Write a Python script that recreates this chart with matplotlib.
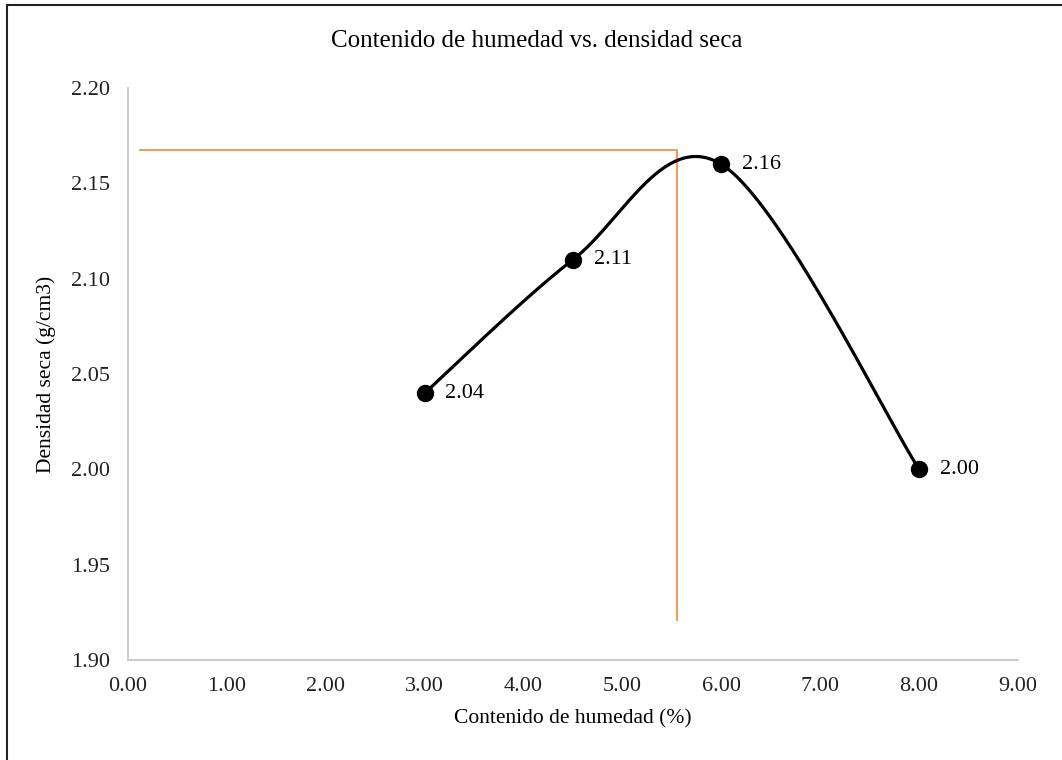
import numpy as np
import matplotlib
matplotlib.use("Agg")
import matplotlib.pyplot as plt
from matplotlib.patches import Rectangle

# ── Data ─────────────────────────────────────────────────────────────────────
humedad = [3.0, 4.5, 6.0, 8.0]          # contenido de humedad (%)
densidad = [2.04, 2.11, 2.16, 2.00]     # densidad seca (g/cm3)
etiquetas = ["2.04", "2.11", "2.16", "2.00"]

# guide lines for optimum moisture / max dry density
guia_x = [0.12, 5.55, 5.55]
guia_y = [2.1675, 2.1675, 1.921]

x_ticks = [0, 1, 2, 3, 4, 5, 6, 7, 8, 9]
y_ticks = [1.90, 1.95, 2.00, 2.05, 2.10, 2.15, 2.20]


def excel_smooth(xs, ys, n=60):
    """Bezier smoothing like Excel's 'smoothed line' (tangent/6 control points)."""
    pts = np.column_stack([xs, ys])
    out = []
    for i in range(len(pts) - 1):
        p0 = pts[i - 1] if i > 0 else pts[i]
        p1, p2 = pts[i], pts[i + 1]
        p3 = pts[i + 2] if i + 2 < len(pts) else pts[i + 1]
        c1 = p1 + (p2 - p0) / 6
        c2 = p2 - (p3 - p1) / 6
        t = np.linspace(0, 1, n)[:, None]
        seg = ((1 - t) ** 3) * p1 + 3 * ((1 - t) ** 2) * t * c1 \
            + 3 * (1 - t) * t ** 2 * c2 + t ** 3 * p2
        out.append(seg if i == 0 else seg[1:])
    out = np.vstack(out)
    return out[:, 0], out[:, 1]


plt.rcParams["font.family"] = ["Liberation Serif", "DejaVu Serif"]

fig = plt.figure(figsize=(10.62, 7.60), dpi=100)
ax = fig.add_axes([128 / 1062, 1 - 660 / 760, 890 / 1062, 572 / 760])

sx, sy = excel_smooth(humedad, densidad)
ax.plot(sx, sy, color="black", lw=2.3, solid_capstyle="round", zorder=3)
ax.plot(humedad, densidad, "o", color="black", ms=11.5, zorder=4)
ax.plot(guia_x, guia_y, color="#F4914B", lw=1.3, zorder=2)

for x, y, s in zip(humedad, densidad, etiquetas):
    ax.annotate(s, (x, y), xytext=(15, 0), textcoords="offset points",
                ha="left", va="center", fontsize=16)

ax.set_xlim(0, 9)
ax.set_ylim(1.90, 2.20)
ax.set_xticks(x_ticks)
ax.set_xticklabels([f"{v:.2f}" for v in x_ticks])
ax.set_yticks(y_ticks)
ax.set_yticklabels([f"{v:.2f}" for v in y_ticks])
ax.tick_params(length=0, labelsize=16, colors="#222222")
ax.tick_params(axis="x", pad=12)
ax.tick_params(axis="y", pad=13)

for side in ["top", "right"]:
    ax.spines[side].set_visible(False)
for side in ["left", "bottom"]:
    ax.spines[side].set_color("#C8C8C8")
    ax.spines[side].set_linewidth(1.3)

ax.set_xlabel("Contenido de humedad (%)", fontsize=15.5, labelpad=10)
ax.set_ylabel("Densidad seca (g/cm3)", fontsize=15.5, labelpad=11)
fig.text(537 / 1062, 1 - 41 / 760, "Contenido de humedad vs. densidad seca",
         ha="center", va="center", fontsize=18)

# outer chart border (only top and left fall inside the image)
fig.patches.append(Rectangle((7 / 1062, -0.1), 1.2, 1.1 - 5 / 760,
                             transform=fig.transFigure, fill=False,
                             edgecolor="#222222", lw=1.5))

fig.savefig("out.png", dpi=100)
